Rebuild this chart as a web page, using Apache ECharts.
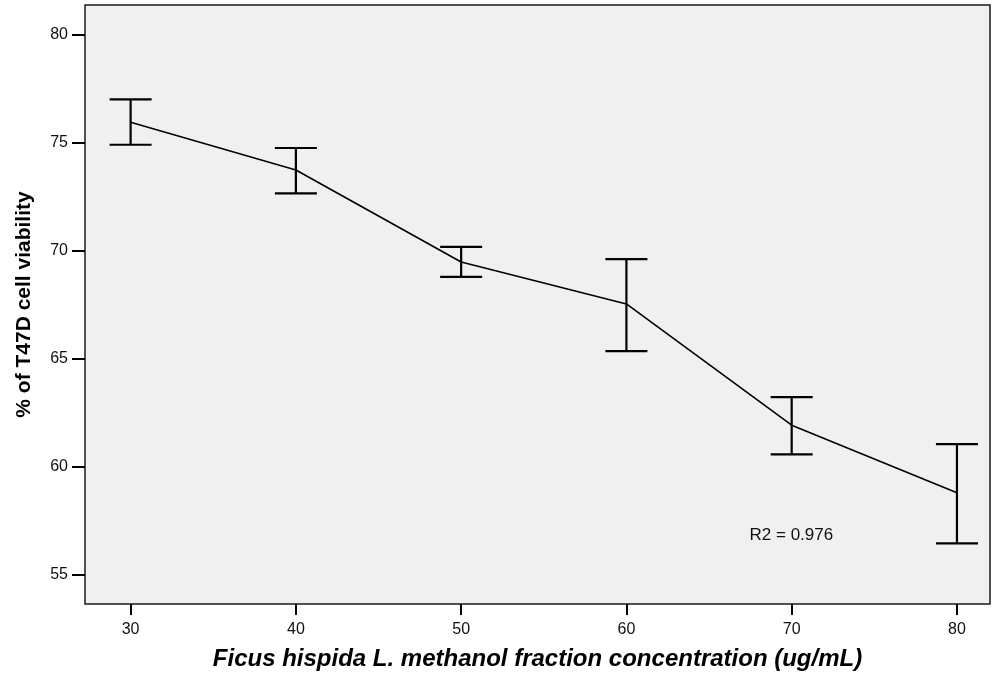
<!DOCTYPE html>
<html>
<head>
<meta charset="utf-8">
<script src="https://cdn.jsdelivr.net/npm/echarts@6/dist/echarts.min.js"></script>
<style>
  html, body { margin: 0; padding: 0; background: #fff; }
  #chart { width: 992px; height: 674px; }
</style>
</head>
<body>
<div id="chart"></div>
<script>
const concentrations = [30, 40, 50, 60, 70, 80]
const viability = [75.96, 73.75, 69.49, 67.55, 61.94, 58.81]
const errLow = [74.92, 72.67, 68.8, 65.37, 60.59, 56.47]
const errHigh = [77.02, 74.77, 70.19, 69.63, 63.24, 61.06]
const xTicks = [30, 40, 50, 60, 70, 80]
const yTicks = [55, 60, 65, 70, 75, 80]
const r2Label = 'R2 = 0.976'
const r2At = [67.45, 56.85]

const chart = echarts.init(document.getElementById('chart'))
const font = 'Liberation Sans, Arial, sans-serif'

const errData = concentrations.map((c, i) => [c, errLow[i], errHigh[i]])

chart.setOption({
  animation: false,
  grid: {
    left: 85, right: 2, top: 5, bottom: 70,
    outerBoundsMode: 'none',
    containLabel: false,
    show: true,
    backgroundColor: '#f0f0f0',
    borderColor: '#1a1a1a',
    borderWidth: 1.5
  },
  xAxis: {
    type: 'value',
    min: 27.24,
    max: 82,
    name: 'Ficus hispida L. methanol fraction concentration (ug/mL)',
    nameLocation: 'middle',
    nameGap: 43,
    nameTextStyle: { fontFamily: font, fontSize: 24, fontWeight: 'bold', fontStyle: 'italic', color: '#000' },
    axisLine: { show: false },
    splitLine: { show: false },
    axisTick: { customValues: xTicks, length: 11, lineStyle: { color: '#000', width: 2 } },
    axisLabel: { customValues: xTicks, margin: 18, fontFamily: font, fontSize: 16, color: '#111' }
  },
  yAxis: {
    type: 'value',
    min: 53.66,
    max: 81.39,
    name: '% of T47D cell viability',
    nameLocation: 'middle',
    nameGap: 50,
    nameTextStyle: { fontFamily: font, fontSize: 21, fontWeight: 'bold', color: '#000' },
    axisLine: { show: false },
    splitLine: { show: false },
    axisTick: { customValues: yTicks, length: 13, lineStyle: { color: '#000', width: 2 } },
    axisLabel: { customValues: yTicks, margin: 17, fontFamily: font, fontSize: 16, color: '#111' }
  },
  series: [
    {
      type: 'line',
      data: concentrations.map((c, i) => [c, viability[i]]),
      symbol: 'none',
      lineStyle: { color: '#000', width: 1.6 },
      z: 3
    },
    {
      type: 'custom',
      data: errData,
      z: 4,
      renderItem (params, api) {
        const x = api.value(0)
        const lo = api.coord([x, api.value(1)])
        const hi = api.coord([x, api.value(2)])
        const half = 21
        const style = { stroke: '#000', lineWidth: 2.2 }
        return {
          type: 'group',
          children: [
            { type: 'line', shape: { x1: lo[0], y1: lo[1], x2: hi[0], y2: hi[1] }, style },
            { type: 'line', shape: { x1: hi[0] - half, y1: hi[1], x2: hi[0] + half, y2: hi[1] }, style },
            { type: 'line', shape: { x1: lo[0] - half, y1: lo[1], x2: lo[0] + half, y2: lo[1] }, style }
          ]
        }
      }
    }
  ]
})

const pos = chart.convertToPixel({ gridIndex: 0 }, r2At)
chart.setOption({
  graphic: [{
    type: 'text',
    x: pos[0],
    y: pos[1],
    style: { text: r2Label, fontFamily: font, fontSize: 17, fill: '#111', textVerticalAlign: 'middle' }
  }]
})
</script>
</body>
</html>
